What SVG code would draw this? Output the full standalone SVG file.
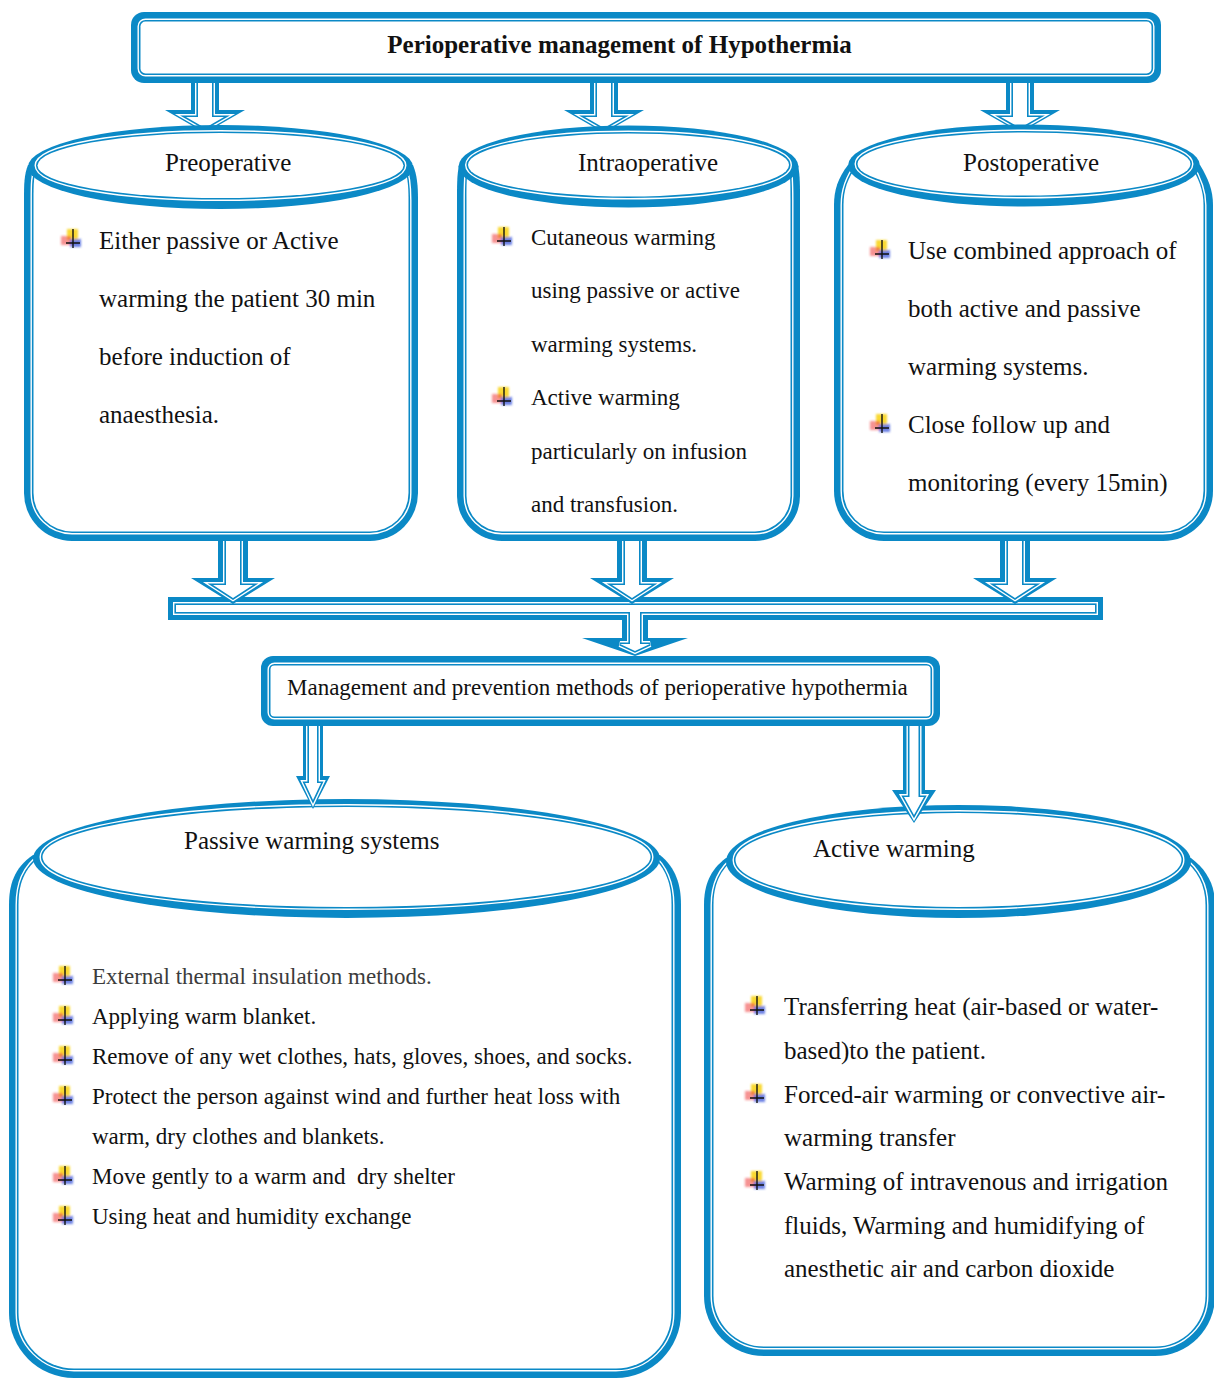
<svg xmlns="http://www.w3.org/2000/svg" xmlns:xlink="http://www.w3.org/1999/xlink" width="1214" height="1379" viewBox="0 0 1214 1379">
<style>
.o{fill:#0b89c6}
.g{fill:#fff;stroke:#fff;stroke-width:6}
.t{fill:#fff;stroke:#0b89c6;stroke-width:3.2;paint-order:stroke}
.w{fill:#fff}
text{font-family:"Liberation Serif","Times New Roman",serif;fill:#111}
.h{font-size:25px}
.b25{font-size:25px}
.b23{font-size:23px}
</style>
<defs>
<filter id="soft" x="-20%" y="-20%" width="140%" height="140%"><feGaussianBlur stdDeviation="0.8"/></filter>
<g id="bul">
<g filter="url(#soft)">
<rect x="6" y="0" width="11" height="11" fill="#f8cf00" opacity=".8"/>
<rect x="0" y="7" width="10" height="9" fill="#ee3b3b" opacity=".55"/>
<rect x="9" y="10" width="11" height="8" fill="#1f3fd6" opacity=".65"/>
</g>
<path d="M12 0V19M5 14H19" stroke="#111" stroke-width="1.4" fill="none"/>
</g>
</defs>
<rect width="1214" height="1379" fill="#fff"/>

<!-- bottom cylinders -->
<g id="passive">
<path class="o" d="M33,855 C14,868 9,885 9,905 L9,1313 A65 65 0 0 0 74,1378 L616,1378 A65 65 0 0 0 681,1313 L681,905 C681,885 676,868 660,855 Z"/>
<path class="g" d="M42.5,855 C23.5,868 18.5,885 18.5,905 L18.5,1313 A55.5 55.5 0 0 0 74,1368.5 L616,1368.5 A55.5 55.5 0 0 0 671.5,1313 L671.5,905 C671.5,885 666.5,868 650.5,855 Z"/>
<path class="t" d="M42.5,855 C23.5,868 18.5,885 18.5,905 L18.5,1313 A55.5 55.5 0 0 0 74,1368.5 L616,1368.5 A55.5 55.5 0 0 0 671.5,1313 L671.5,905 C671.5,885 666.5,868 650.5,855 Z"/>
<ellipse class="o" cx="346.5" cy="858.5" rx="313.5" ry="59.5"/>
<ellipse class="g" cx="346.5" cy="857" rx="304" ry="50"/>
<ellipse class="t" cx="346.5" cy="857" rx="304" ry="50"/>
<text class="h" x="184" y="849">Passive warming systems</text>
<use xlink:href="#bul" x="53" y="966"/>
<use xlink:href="#bul" x="53" y="1006"/>
<use xlink:href="#bul" x="53" y="1046"/>
<use xlink:href="#bul" x="53" y="1086"/>
<use xlink:href="#bul" x="53" y="1166"/>
<use xlink:href="#bul" x="53" y="1206"/>
<text class="b23" x="92" y="984" style="fill:#3c3c3c">External thermal insulation methods.</text>
<text class="b23" x="92" y="1024">Applying warm blanket.</text>
<text class="b23" x="92" y="1064">Remove of any wet clothes, hats, gloves, shoes, and socks.</text>
<text class="b23" x="92" y="1104">Protect the person against wind and further heat loss with</text>
<text class="b23" x="92" y="1144">warm, dry clothes and blankets.</text>
<text class="b23" x="92" y="1184" xml:space="preserve">Move gently to a warm and  dry shelter</text>
<text class="b23" x="92" y="1224">Using heat and humidity exchange</text>
</g>

<g id="active">
<path class="o" d="M726,858 C710,870 704,885 704,905 L704,1296 A60 60 0 0 0 764,1356 L1155,1356 A60 60 0 0 0 1215,1296 L1215,905 C1215,885 1207,870 1191,858 Z"/>
<path class="g" d="M735.5,858 C719.5,870 713.5,885 713.5,905 L713.5,1296 A50.5 50.5 0 0 0 764,1346.5 L1155,1346.5 A50.5 50.5 0 0 0 1205.5,1296 L1205.5,905 C1205.5,885 1197.5,870 1181.5,858 Z"/>
<path class="t" d="M735.5,858 C719.5,870 713.5,885 713.5,905 L713.5,1296 A50.5 50.5 0 0 0 764,1346.5 L1155,1346.5 A50.5 50.5 0 0 0 1205.5,1296 L1205.5,905 C1205.5,885 1197.5,870 1181.5,858 Z"/>
<ellipse class="o" cx="958.5" cy="861.5" rx="232.5" ry="56.5"/>
<ellipse class="g" cx="958.5" cy="860" rx="223" ry="47"/>
<ellipse class="t" cx="958.5" cy="860" rx="223" ry="47"/>
<text class="h" x="813" y="857">Active warming</text>
<use xlink:href="#bul" x="745" y="996"/>
<use xlink:href="#bul" x="745" y="1084"/>
<use xlink:href="#bul" x="745" y="1171"/>
<text class="b25" x="784" y="1015">Transferring heat (air-based or water-</text>
<text class="b25" x="784" y="1059">based)to the patient.</text>
<text class="b25" x="784" y="1103">Forced-air warming or convective air-</text>
<text class="b25" x="784" y="1146">warming transfer</text>
<text class="b25" x="784" y="1190">Warming of intravenous and irrigation</text>
<text class="b25" x="784" y="1234">fluids, Warming and humidifying of</text>
<text class="b25" x="784" y="1277">anesthetic air and carbon dioxide</text>
</g>

<g id="connectors">
<!-- top arrows -->
<polygon class="o" points="191,70 219,70 219,110 245,110 205,133 165,110 191,110"/>
<polygon class="g" points="198,70 212,70 212,117 224,117 205,128 186,117 198,117"/>
<polygon class="t" points="198,70 212,70 212,117 224,117 205,128 186,117 198,117"/>
<polygon class="o" points="590,70 618,70 618,110 644,110 604,133 564,110 590,110"/>
<polygon class="g" points="597,70 611,70 611,117 623,117 604,128 585,117 597,117"/>
<polygon class="t" points="597,70 611,70 611,117 623,117 604,128 585,117 597,117"/>
<polygon class="o" points="1006,70 1034,70 1034,110 1060,110 1020,133 980,110 1006,110"/>
<polygon class="g" points="1013,70 1027,70 1027,117 1039,117 1020,128 1001,117 1013,117"/>
<polygon class="t" points="1013,70 1027,70 1027,117 1039,117 1020,128 1001,117 1013,117"/>
<!-- bar + center arrow -->
<rect class="o" x="168" y="597" width="935" height="23"/>
<polygon class="o" points="622,612 648,612 648,638 688,638 635,656 582,638 622,638"/>
<rect class="g" x="176" y="605" width="919" height="7"/>
<polygon class="g" points="630,606 640,606 640,644 650,644 635,651 620,644 630,644"/>
<rect class="t" x="176" y="605" width="919" height="7"/>
<polygon class="t" points="630,606 640,606 640,644 650,644 635,651 620,644 630,644"/>
<rect class="w" x="176" y="605" width="919" height="7"/>
<!-- arrows from top cylinders to bar -->
<polygon class="o" points="218,530 248,530 248,578 275,578 233,604 191,578 218,578"/>
<polygon class="g" points="226,530 240,530 240,585 253,585 233,598 213,585 226,585"/>
<polygon class="t" points="226,530 240,530 240,585 253,585 233,598 213,585 226,585"/>
<polygon class="o" points="617,530 647,530 647,578 674,578 632,604 590,578 617,578"/>
<polygon class="g" points="625,530 639,530 639,585 652,585 632,598 612,585 625,585"/>
<polygon class="t" points="625,530 639,530 639,585 652,585 632,598 612,585 625,585"/>
<polygon class="o" points="1000,530 1030,530 1030,578 1057,578 1015,604 973,578 1000,578"/>
<polygon class="g" points="1008,530 1022,530 1022,585 1035,585 1015,598 995,585 1008,585"/>
<polygon class="t" points="1008,530 1022,530 1022,585 1035,585 1015,598 995,585 1008,585"/>
<!-- arrows from management box -->
<polygon class="o" points="303,718 323,718 323,776 330,776 313,809 296,776 303,776"/>
<polygon class="g" points="309,718 317,718 317,783 321,783 313,800 305,783 309,783"/>
<polygon class="t" points="309,718 317,718 317,783 321,783 313,800 305,783 309,783"/>
<polygon class="o" points="903,718 925,718 925,790 936,790 914,823 892,790 903,790"/>
<polygon class="g" points="909.5,718 918.5,718 918.5,797 924,797 914,815 904,797 909.5,797"/>
<polygon class="t" points="909.5,718 918.5,718 918.5,797 924,797 914,815 904,797 909.5,797"/>
</g>

<g id="title">
<rect class="o" x="131" y="12" width="1030" height="71" rx="13"/>
<rect class="g" x="140.5" y="21.5" width="1011" height="52" rx="5"/>
<rect class="t" x="140.5" y="21.5" width="1011" height="52" rx="5"/>
<text x="619.5" y="53" text-anchor="middle" style="font-size:25px;font-weight:bold">Perioperative management of Hypothermia</text>
</g>

<g id="preoperative">
<path class="o" d="M28,165 C24,175 24,185 24,200 L24,493 A48 48 0 0 0 72,541 L370,541 A48 48 0 0 0 418,493 L418,200 C418,185 417,175 413,165 Z"/>
<path class="g" d="M37.5,165 C33.5,175 33.5,185 33.5,200 L33.5,493 A38.5 38.5 0 0 0 72,531.5 L370,531.5 A38.5 38.5 0 0 0 408.5,493 L408.5,200 C408.5,185 407.5,175 403.5,165 Z"/>
<path class="t" d="M37.5,165 C33.5,175 33.5,185 33.5,200 L33.5,493 A38.5 38.5 0 0 0 72,531.5 L370,531.5 A38.5 38.5 0 0 0 408.5,493 L408.5,200 C408.5,185 407.5,175 403.5,165 Z"/>
<ellipse class="o" cx="220.5" cy="167" rx="192.5" ry="42"/>
<ellipse class="g" cx="220.5" cy="165.5" rx="183" ry="32.5"/>
<ellipse class="t" cx="220.5" cy="165.5" rx="183" ry="32.5"/>
<text class="h" x="165" y="171">Preoperative</text>
<use xlink:href="#bul" x="61" y="229"/>
<text class="b25" x="99" y="249">Either passive or Active</text>
<text class="b25" x="99" y="307">warming the patient 30 min</text>
<text class="b25" x="99" y="365">before induction of</text>
<text class="b25" x="99" y="423">anaesthesia.</text>
</g>

<g id="intraoperative">
<path class="o" d="M459,165 C457,175 457,185 457,200 L457,496 A45 45 0 0 0 502,541 L755,541 A45 45 0 0 0 800,496 L800,200 C800,185 800,175 798,165 Z"/>
<path class="g" d="M468.5,165 C466.5,175 466.5,185 466.5,200 L466.5,496 A35.5 35.5 0 0 0 502,531.5 L755,531.5 A35.5 35.5 0 0 0 790.5,496 L790.5,200 C790.5,185 790.5,175 788.5,165 Z"/>
<path class="t" d="M468.5,165 C466.5,175 466.5,185 466.5,200 L466.5,496 A35.5 35.5 0 0 0 502,531.5 L755,531.5 A35.5 35.5 0 0 0 790.5,496 L790.5,200 C790.5,185 790.5,175 788.5,165 Z"/>
<ellipse class="o" cx="628.5" cy="166.5" rx="170" ry="41"/>
<ellipse class="g" cx="628.5" cy="165" rx="160.5" ry="31.5"/>
<ellipse class="t" cx="628.5" cy="165" rx="160.5" ry="31.5"/>
<text class="h" x="578" y="171">Intraoperative</text>
<use xlink:href="#bul" x="492" y="227"/>
<use xlink:href="#bul" x="492" y="387"/>
<text class="b23" x="531" y="245">Cutaneous warming</text>
<text class="b23" x="531" y="298">using passive or active</text>
<text class="b23" x="531" y="352">warming systems.</text>
<text class="b23" x="531" y="405">Active warming</text>
<text class="b23" x="531" y="459">particularly on infusion</text>
<text class="b23" x="531" y="512">and transfusion.</text>
</g>

<g id="postoperative">
<path class="o" d="M848,165 C838,178 834,190 834,205 L834,491 A50 50 0 0 0 884,541 L1163,541 A50 50 0 0 0 1213,491 L1213,205 C1213,190 1208,178 1200,165 Z"/>
<path class="g" d="M857.5,165 C847.5,178 843.5,190 843.5,205 L843.5,491 A40.5 40.5 0 0 0 884,531.5 L1163,531.5 A40.5 40.5 0 0 0 1203.5,491 L1203.5,205 C1203.5,190 1198.5,178 1190.5,165 Z"/>
<path class="t" d="M857.5,165 C847.5,178 843.5,190 843.5,205 L843.5,491 A40.5 40.5 0 0 0 884,531.5 L1163,531.5 A40.5 40.5 0 0 0 1203.5,491 L1203.5,205 C1203.5,190 1198.5,178 1190.5,165 Z"/>
<ellipse class="o" cx="1024" cy="165.5" rx="176" ry="41"/>
<ellipse class="g" cx="1024" cy="164" rx="166.5" ry="31.5"/>
<ellipse class="t" cx="1024" cy="164" rx="166.5" ry="31.5"/>
<text class="h" x="963" y="171">Postoperative</text>
<use xlink:href="#bul" x="870" y="240"/>
<use xlink:href="#bul" x="870" y="414"/>
<text class="b25" x="908" y="259">Use combined approach of</text>
<text class="b25" x="908" y="317">both active and passive</text>
<text class="b25" x="908" y="375">warming systems.</text>
<text class="b25" x="908" y="433">Close follow up and</text>
<text class="b25" x="908" y="491">monitoring (every 15min)</text>
</g>

<g id="management">
<rect class="o" x="261" y="656" width="679" height="70" rx="12"/>
<rect class="g" x="270.5" y="665.5" width="660" height="51" rx="4"/>
<rect class="t" x="270.5" y="665.5" width="660" height="51" rx="4"/>
<text class="b23" x="287" y="695">Management and prevention methods of perioperative hypothermia</text>
</g>
</svg>
